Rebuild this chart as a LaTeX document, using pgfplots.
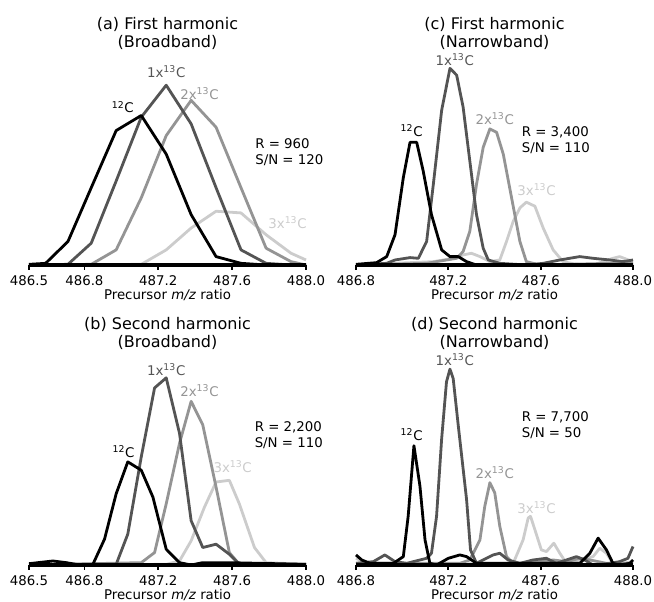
\documentclass[border=0pt]{standalone}
\usepackage{fontspec}
\setmainfont{DejaVu Sans}
\usepackage{pgfplots}
\pgfplotsset{compat=1.18}

\definecolor{cA}{gray}{0.0}
\definecolor{cB}{gray}{0.33}
\definecolor{cC}{gray}{0.58}
\definecolor{cD}{gray}{0.80}

\tikzset{lab/.style={font=\fontsize{10}{12}\selectfont}}

\pgfplotsset{
  panel/.style={
    scale only axis, width=207.75pt, height=153.75pt,
    ymin=0, ymax=610, enlargelimits=false, clip=false,
    axis x line=bottom, axis y line=none, ytick=\empty,
    x axis line style={-, line width=2.3pt},
    tick align=outside, major tick length=3.5pt,
    every tick/.style={black, line width=1.3pt},
    tick label style={font=\fontsize{10}{12}\selectfont},
    xticklabel style={yshift=-1pt},
    xlabel={Precursor \textit{m/z} ratio},
    label style={font=\fontsize{10}{12}\selectfont},
    xlabel style={yshift=4pt},
    title style={align=center, font=\fontsize{12}{13}\selectfont, yshift=-1.5pt},
    every axis plot/.append style={line width=2.1pt, mark=none, line join=round},
    axis on top,
  },
  wide/.style={xmin=486.5, xmax=488.0, xtick={486.5,486.8,487.2,487.6,488.0},
    xticklabels={486.5,486.8,487.2,487.6,488.0}},
  narrow/.style={xmin=486.8, xmax=488.0, xtick={486.8,487.2,487.6,488.0},
    xticklabels={486.8,487.2,487.6,488.0}},
}

\begin{document}
\begin{tikzpicture}
\useasboundingbox (0,0) rectangle (490.5pt,-450.75pt);

% (a)
\begin{axis}[panel, wide, at={(21.75pt,-198.75pt)}, anchor=south west,
  title={(a) First harmonic\\(Broadband)}]
\addplot[cD] coordinates {(486.5,0)(487.108,2)(487.243,45)(487.378,110)(487.513,160)(487.648,155)(487.784,90)(487.919,35)(488,15)};
\addplot[cC] coordinates {(486.5,0)(486.837,2)(486.972,45)(487.108,200)(487.243,385)(487.378,490)(487.513,410)(487.648,230)(487.784,50)(487.919,10)(488,0)};
\addplot[cB] coordinates {(486.5,0)(486.711,2)(486.837,65)(486.972,250)(487.108,440)(487.243,535)(487.378,420)(487.513,230)(487.648,45)(487.784,5)(487.919,0)(488,0)};
\addplot[cA] coordinates {(486.5,2)(486.59,5)(486.711,70)(486.837,230)(486.972,400)(487.108,445)(487.243,330)(487.378,150)(487.513,25)(487.648,5)(487.784,0)(488,0)};
\node[lab, cA] at (axis cs:487.008,470) {\textsuperscript{12}C};
\node[lab, cB] at (axis cs:487.243,575) {1x\textsuperscript{13}C};
\node[lab, cC] at (axis cs:487.423,510) {2x\textsuperscript{13}C};
\node[lab, cD] at (axis cs:487.90,125) {3x\textsuperscript{13}C};
\node[lab, anchor=west, align=left] at (axis cs:487.70,335) {R = 960\\S/N = 120};
\end{axis}

% (c)
\begin{axis}[panel, narrow, at={(267pt,-198.75pt)}, anchor=south west,
  title={(c) First harmonic\\(Narrowband)}]
\addplot[cD] coordinates {(486.8,0)(487.135,10)(487.221,20)(487.264,30)(487.300,35)(487.337,25)(487.380,10)(487.423,15)(487.452,70)(487.481,130)(487.510,170)(487.538,187)(487.575,175)(487.611,110)(487.654,45)(487.697,10)(487.755,2)(487.827,0)(487.913,20)(487.942,25)(488,10)};
\addplot[cC] coordinates {(486.8,0)(487.106,5)(487.192,15)(487.236,20)(487.264,40)(487.293,100)(487.322,240)(487.351,350)(487.380,405)(487.409,395)(487.438,330)(487.474,200)(487.510,70)(487.538,10)(487.596,0)(487.899,5)(488,5)};
\addplot[cB] coordinates {(486.8,0)(486.933,5)(486.969,15)(487.034,22)(487.070,20)(487.106,70)(487.135,240)(487.171,460)(487.207,585)(487.236,565)(487.264,470)(487.293,310)(487.322,150)(487.351,50)(487.373,15)(487.423,5)(487.538,0)(487.611,5)(487.683,15)(487.769,25)(487.827,20)(487.899,15)(487.957,10)(488,15)};
\addplot[cA] coordinates {(486.8,2)(486.889,7)(486.933,25)(486.969,90)(487.005,260)(487.034,365)(487.063,365)(487.091,280)(487.127,150)(487.171,45)(487.207,25)(487.243,25)(487.279,10)(487.322,0)(488,0)};
\node[lab, cA] at (axis cs:487.041,400) {\textsuperscript{12}C};
\node[lab, cB] at (axis cs:487.228,610) {1x\textsuperscript{13}C};
\node[lab, cC] at (axis cs:487.401,435) {2x\textsuperscript{13}C};
\node[lab, cD] at (axis cs:487.582,225) {3x\textsuperscript{13}C};
\node[lab, anchor=west, align=left] at (axis cs:487.498,370) {R = 3,400\\S/N = 110};
\end{axis}

% (b)
\begin{axis}[panel, wide, at={(21.75pt,-423.75pt)}, anchor=south west,
  title={(b) Second harmonic\\(Broadband)}]
\addplot[cD] coordinates {(486.5,0)(487.243,2)(487.315,12)(487.378,72)(487.450,172)(487.513,247)(487.585,252)(487.639,182)(487.721,52)(487.784,7)(488,2)};
\addplot[cC] coordinates {(486.5,0)(487.108,7)(487.180,37)(487.243,182)(487.315,362)(487.378,487)(487.441,417)(487.513,232)(487.585,37)(487.639,2)(488,0)};
\addplot[cB] coordinates {(486.5,2)(486.972,2)(487.035,92)(487.108,322)(487.180,527)(487.243,557)(487.315,392)(487.378,132)(487.441,52)(487.513,62)(487.585,32)(487.639,2)(488,2)};
\addplot[cA] coordinates {(486.5,4)(486.63,12)(486.702,7)(486.774,0)(486.846,2)(486.909,77)(486.972,212)(487.035,307)(487.108,282)(487.171,202)(487.243,47)(487.315,7)(487.378,0)(487.441,7)(487.513,7)(487.585,7)(488,2)};
\node[lab, cA] at (axis cs:487.012,337) {\textsuperscript{12}C};
\node[lab, cB] at (axis cs:487.243,582) {1x\textsuperscript{13}C};
\node[lab, cC] at (axis cs:487.423,520) {2x\textsuperscript{13}C};
\node[lab, cD] at (axis cs:487.603,292) {3x\textsuperscript{13}C};
\node[lab, anchor=west, align=left] at (axis cs:487.697,387) {R = 2,200\\S/N = 110};
\end{axis}

% (d)
\begin{axis}[panel, narrow, at={(267pt,-423.75pt)}, anchor=south west,
  title={(d) Second harmonic\\(Narrowband)}]
\addplot[cD] coordinates {(486.8,20)(486.846,5)(486.9,0)(487.481,5)(487.524,75)(487.546,140)(487.556,145)(487.575,105)(487.603,45)(487.625,40)(487.657,65)(487.683,35)(487.712,5)(487.769,15)(487.827,25)(487.856,50)(487.885,35)(487.913,5)(487.957,5)(488,10)};
\addplot[cC] coordinates {(486.8,5)(487.250,5)(487.293,15)(487.337,75)(487.358,175)(487.380,245)(487.401,215)(487.423,115)(487.452,25)(487.481,5)(487.538,5)(487.596,10)(487.654,15)(487.712,10)(487.769,20)(487.813,15)(487.885,5)(488,5)};
\addplot[cB] coordinates {(486.8,5)(486.875,10)(486.925,30)(486.969,10)(487.020,5)(487.077,15)(487.106,20)(487.127,35)(487.149,145)(487.171,375)(487.192,545)(487.207,583)(487.221,555)(487.243,415)(487.279,195)(487.296,45)(487.322,5)(487.365,20)(487.394,30)(487.423,35)(487.459,15)(487.510,5)(487.567,15)(487.625,20)(487.668,5)(487.712,15)(487.755,25)(487.791,15)(487.827,0)(487.899,5)(487.942,10)(487.978,20)(488,55)};
\addplot[cA] coordinates {(486.8,30)(486.825,15)(486.861,5)(486.962,5)(487.005,25)(487.026,145)(487.051,355)(487.077,235)(487.099,75)(487.120,5)(487.149,0)(487.200,20)(487.250,30)(487.279,25)(487.322,5)(487.365,5)(487.481,5)(487.625,5)(487.769,5)(487.813,35)(487.849,80)(487.885,45)(487.913,5)(487.942,0)(487.986,5)(488,15)};
\node[lab, cA] at (axis cs:487.041,387) {\textsuperscript{12}C};
\node[lab, cB] at (axis cs:487.228,610) {1x\textsuperscript{13}C};
\node[lab, cC] at (axis cs:487.401,275) {2x\textsuperscript{13}C};
\node[lab, cD] at (axis cs:487.582,170) {3x\textsuperscript{13}C};
\node[lab, anchor=west, align=left] at (axis cs:487.498,415) {R = 7,700\\S/N = 50};
\end{axis}
\end{tikzpicture}
\end{document}
